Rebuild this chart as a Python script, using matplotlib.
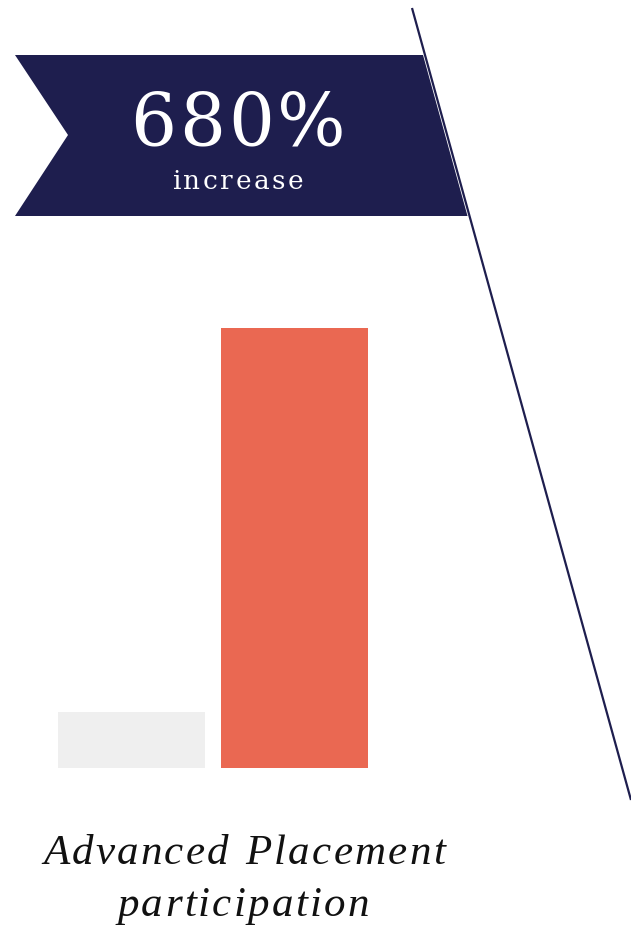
import matplotlib
matplotlib.use('Agg')
import matplotlib.pyplot as plt
from matplotlib.patches import Polygon

# data
labels = ['Before', 'After']
values = [1.0, 7.8]
bar_colors = ['#efefef', '#ea6852']
caption = ['Advanced Placement', 'participation']

navy = '#1e1e4e'
W, H = 631, 933

fig = plt.figure(figsize=(W / 100, H / 100), dpi=100)
fig.patch.set_facecolor('white')

# bars
ax = fig.add_axes([50 / W, 1 - 768 / H, 326 / W, 440 / H])
ax.bar(range(len(values)), values, width=0.9, color=bar_colors)
ax.set_xlim(-0.5, 1.5)
ax.set_ylim(0, max(values))
ax.axis('off')

# overlay in pixel coordinates for banner / line / text
ov = fig.add_axes([0, 0, 1, 1], zorder=3)
ov.set_xlim(0, W)
ov.set_ylim(H, 0)
ov.axis('off')
ov.patch.set_alpha(0)
rend = fig.canvas.get_renderer()

def spaced(x, y, s, track, **kw):
  # draw text char by char with extra letter spacing, centred at x
  widths = []
  for ch in s:
    t = ov.text(0, 0, ch if ch != ' ' else 'n', **kw)
    widths.append(t.get_window_extent(rend).width * (0.6 if ch == ' ' else 1))
    t.remove()
  total = sum(widths) + track * (len(s) - 1)
  cx = x - total / 2
  for ch, w in zip(s, widths):
    ov.text(cx, y, ch, ha='left', va='baseline', **kw)
    cx += w + track

def line_x(y):
  return 412 + (631 - 412) * (y - 8) / (800 - 8)

banner = Polygon([(15, 55), (line_x(55) - 2, 55), (line_x(216) - 2, 216), (15, 216), (68, 135)],
                 closed=True, facecolor=navy, edgecolor='none')
ov.add_patch(banner)
ov.plot([412, 631], [8, 800], color=navy, lw=1.6, solid_capstyle='butt')

pct = round((values[1] / values[0] - 1) * 100)
spaced(238, 145, f'{pct}%', 3, color='white', fontsize=52, family='DejaVu Serif')
spaced(238, 189, 'increase', 2.5, color='white', fontsize=19, family='DejaVu Serif')

spaced(244, 864, caption[0], 2.2, fontsize=31, family='Liberation Serif', style='italic',
       color='#111111')
spaced(243, 916, caption[1], 2.2, fontsize=31, family='Liberation Serif', style='italic',
       color='#111111')

fig.savefig('out.png', dpi=100)
